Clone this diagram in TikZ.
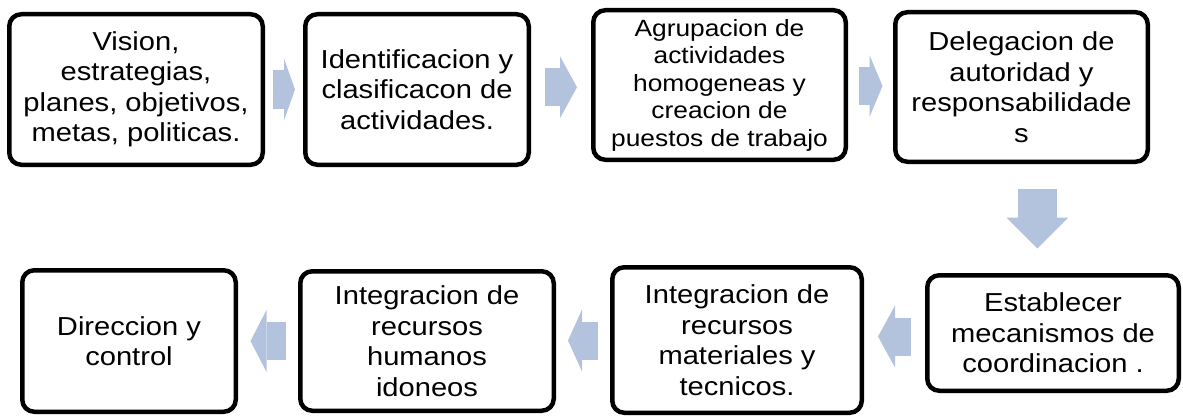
\documentclass[tikz,border=0pt]{standalone}
\usepackage{fontspec}
\setmainfont{Liberation Sans}[FakeStretch=1.12]
\usetikzlibrary{arrows.meta,calc}

\definecolor{arrowblue}{RGB}{179,194,221}

\tikzset{
  stepbox/.style={draw=black, line width=4.5pt, rounded corners=12pt, align=center,
    inner sep=0pt, font=\fontsize{26}{30.5}\selectfont},
  flowarrow/.style={draw=arrowblue, line width=38pt,
    -{Triangle[length=#1, width=62pt, line width=0pt]}},
}

\begin{document}
\begin{tikzpicture}[x=1pt,y=-1pt]
      \useasboundingbox (0,0) rectangle (1183,420);

      % fila de arriba
      \node[stepbox, minimum width=253.5pt, minimum height=150.5pt] (vision) at (136,89.5) {Vision,\\estrategias,\\planes, objetivos,\\metas, politicas.};
      \node[stepbox, minimum width=223.5pt, minimum height=150.5pt] (identif) at (417,89.5) {Identificacion y\\clasificacon de\\actividades.};
      \node[stepbox, minimum width=252.5pt, minimum height=149.5pt, font=\fontsize{23.5}{27.5}\selectfont] (agrup) at (719.5,85) {Agrupacion de\\actividades\\homogeneas y\\creacion de\\puestos de trabajo};
      \node[stepbox, minimum width=252.5pt, minimum height=149.5pt] (deleg) at (1021.5,87) {Delegacion de\\autoridad y\\responsabilidade\\s};

      % fila de abajo
      \node[stepbox, minimum width=251.5pt, minimum height=115.5pt] (mecan) at (1053,333) {Establecer\\mecanismos de\\coordinacion .};
      \node[stepbox, minimum width=249.5pt, minimum height=145.5pt] (materiales) at (737,340) {Integracion de\\recursos\\materiales y\\tecnicos.};
      \node[stepbox, minimum width=253.5pt, minimum height=139.5pt] (humanos) at (427,341) {Integracion de\\recursos\\humanos\\idoneos};
      \node[stepbox, minimum width=213.5pt, minimum height=141.5pt] (direccion) at (129,341) {Direccion y\\control};

      % flechas
      \draw[flowarrow=11pt] ($(vision.east)!0.5!(identif.west)+(-11,0)$) -- +(22,0);
      \draw[flowarrow=17pt] ($(identif.east)!0.5!(agrup.west)+(-16,0)$) -- +(32,0);
      \draw[flowarrow=13pt] ($(agrup.east)!0.5!(deleg.west)+(-12,0)$) -- +(24,0);
      \draw[flowarrow=31pt, line width=39pt] ($(deleg.south)!0.5!(mecan.north)+(0,-30)$) -- +(0,60);
      \draw[flowarrow=17pt] ($(mecan.west)!0.5!(materiales.east)+(16.5,0)$) -- +(-33,0);
      \draw[flowarrow=14pt] ($(materiales.west)!0.5!(humanos.east)+(15,0)$) -- +(-30,0);
      \draw[flowarrow=16pt] ($(humanos.west)!0.5!(direccion.east)+(17.5,0)$) -- +(-35,0);

\end{tikzpicture}
\end{document}
